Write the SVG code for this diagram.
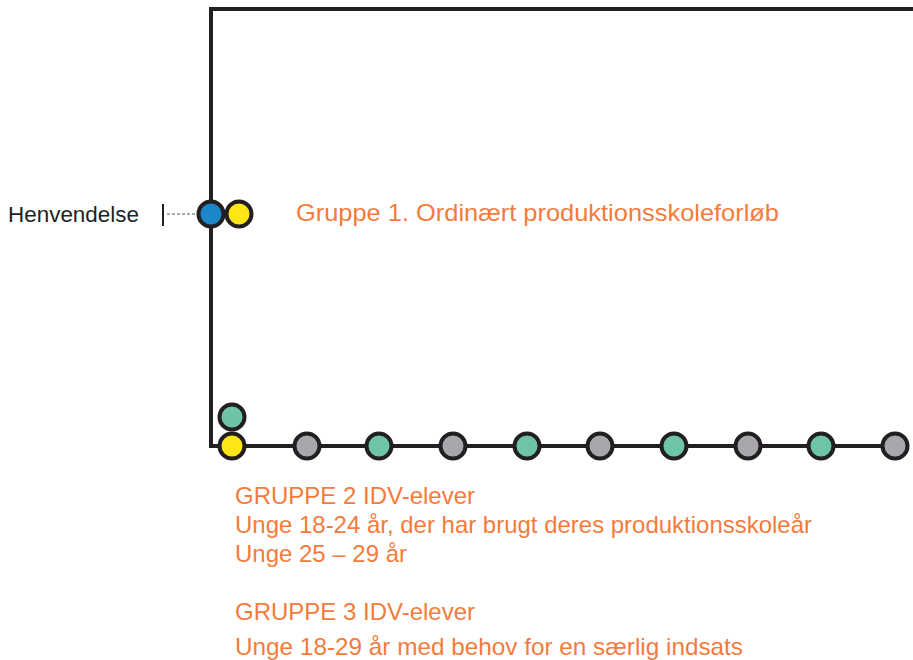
<svg xmlns="http://www.w3.org/2000/svg" width="913" height="660" viewBox="0 0 913 660">
<style>
.ln{stroke:#231f20;stroke-width:4;fill:none}
.c{stroke:#231f20;stroke-width:4}
.blue{fill:#1b87c9}.yellow{fill:#ffe516}.green{fill:#6dc5a5}.gray{fill:#a6a8ab}
.t{font-family:"Liberation Sans",Arial,sans-serif;font-size:24px;fill:#f47b3c}
.k{font-family:"Liberation Sans",Arial,sans-serif;font-size:22px;fill:#231f20}
</style>
<rect width="913" height="660" fill="#fff"/>
<g id="connectors">
<polyline class="ln" points="913,9 211,9 211,446 895,446"/>
<line x1="163" y1="204" x2="163" y2="226" stroke="#231f20" stroke-width="2"/>
<line x1="167" y1="214" x2="198" y2="214" stroke="#555" stroke-width="1" stroke-dasharray="3,2"/>
</g>
<g id="henvendelse"><text class="k" x="8" y="222" textLength="131" lengthAdjust="spacingAndGlyphs">Henvendelse</text></g>
<g id="n-blue"><circle class="c blue" cx="211" cy="214" r="12.5"/></g>
<g id="n-yellow1"><circle class="c yellow" cx="239" cy="214" r="12.5"/></g>
<g id="n-green0"><circle class="c green" cx="232" cy="417" r="12.5"/></g>
<g id="n-yellow2"><circle class="c yellow" cx="232" cy="446" r="12.5"/></g>
<g id="n-b1"><circle class="c gray" cx="307" cy="446" r="12.5"/></g>
<g id="n-b2"><circle class="c green" cx="379" cy="446" r="12.5"/></g>
<g id="n-b3"><circle class="c gray" cx="453" cy="446" r="12.5"/></g>
<g id="n-b4"><circle class="c green" cx="527" cy="446" r="12.5"/></g>
<g id="n-b5"><circle class="c gray" cx="600" cy="446" r="12.5"/></g>
<g id="n-b6"><circle class="c green" cx="674" cy="446" r="12.5"/></g>
<g id="n-b7"><circle class="c gray" cx="748" cy="446" r="12.5"/></g>
<g id="n-b8"><circle class="c green" cx="821" cy="446" r="12.5"/></g>
<g id="n-b9"><circle class="c gray" cx="895" cy="446" r="12.5"/></g>
<g id="labels">
<text class="t" x="296" y="221" style="font-size:24px" textLength="483" lengthAdjust="spacingAndGlyphs">Gruppe 1. Ordinært produktionsskoleforløb</text>
<text class="t" x="235" y="504" textLength="240" lengthAdjust="spacingAndGlyphs">GRUPPE 2 IDV-elever</text>
<text class="t" x="235" y="533" textLength="577" lengthAdjust="spacingAndGlyphs">Unge 18-24 år, der har brugt deres produktionsskoleår</text>
<text class="t" x="235" y="562" textLength="172" lengthAdjust="spacingAndGlyphs">Unge 25 – 29 år</text>
<text class="t" x="235" y="620" textLength="240" lengthAdjust="spacingAndGlyphs">GRUPPE 3 IDV-elever</text>
<text class="t" x="235" y="655" textLength="508" lengthAdjust="spacingAndGlyphs">Unge  18-29 år med behov for en særlig indsats</text>
</g>
</svg>
